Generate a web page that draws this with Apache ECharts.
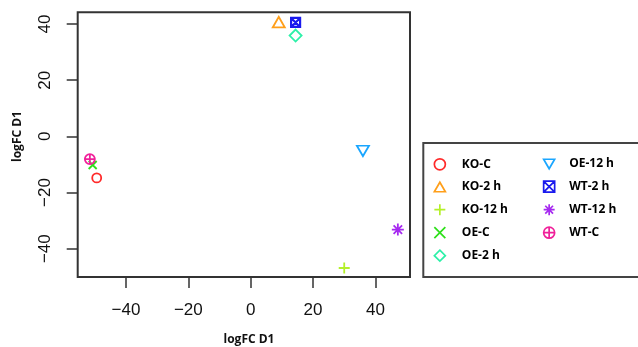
<!DOCTYPE html>
<html><head><meta charset="utf-8">
<script src="https://cdn.jsdelivr.net/npm/echarts@6/dist/echarts.min.js"></script>
<style>html,body{margin:0;padding:0;background:#fff}#c{width:638px;height:347px}</style>
</head><body><div id="c"></div>
<script>
// ---- data ----
const groups  = ['KO-C','KO-2 h','KO-12 h','OE-C','OE-2 h','OE-12 h','WT-2 h','WT-12 h','WT-C'];
const xValues = [-49.4, 9.0, 30.0, -50.7, 14.4, 36.0, 14.4, 47.2, -51.6];
const yValues = [-14.8, 40.7, -46.9, -10.2, 35.9, -5.2, 40.6, -33.2, -8.1];
const xTicks  = [-40, -20, 0, 20, 40];
const yTicks  = [-40, -20, 0, 20, 40];
const xTitle  = 'logFC D1';
const yTitle  = 'logFC D1';

// ---- styles ----
const colors = ['#ff2a2a','#ff9f1a','#b4f02a','#2ee01a','#2cf0a8','#1aa6ff','#1a1aee','#a62af0','#f0209a'];
const symbols = [
  'circle',
  'path://M5 0 L10 8.66 L0 8.66 Z',
  'path://M0 5 L10 5 M5 0 L5 10',
  'path://M0 0 L10 10 M10 0 L0 10',
  'path://M5 0 L10 5 L5 10 L0 5 Z',
  'path://M0 0 L10 0 L5 8.66 Z',
  'path://M0 0 L10 0 L10 10 L0 10 Z M0 0 L10 10 M10 0 L0 10',
  'path://M0 5 L10 5 M5 0 L5 10 M1.46 1.46 L8.54 8.54 M8.54 1.46 L1.46 8.54',
  'path://M0 5 A5 5 0 1 1 10 5 A5 5 0 1 1 0 5 Z M0 5 L10 5 M5 0 L5 10'
];
const sizes = [9, [12,10.4], 11, 8, 12, [12,10.4], 9, 12, 10];
const strokes = [1.8, 1.8, 1.8, 1.8, 1.8, 1.8, 2.2, 1.8, 1.8];

const minus = v => String(v).replace('-', '\u2212');

const series = groups.map((g, i) => ({
  name: g,
  type: 'scatter',
  data: [[xValues[i], yValues[i]]],
  symbol: symbols[i],
  symbolSize: sizes[i],
  itemStyle: { color: 'rgba(0,0,0,0)', borderColor: colors[i], borderWidth: strokes[i], opacity: 1 },
  emphasis: { disabled: true }
}));

const legendCommon = {
  orient: 'vertical', top: 158, itemWidth: 11, itemHeight: 11, itemGap: 10.3, padding: 0,
  selectedMode: false,
  itemStyle: { borderWidth: 1.7 },
  textStyle: { fontFamily: 'Open Sans', fontWeight: 'bold', fontSize: 12, color: '#000' }
};

const chart = echarts.init(document.getElementById('c'), null, { renderer: 'canvas' });
chart.setOption({
  animation: false,
  backgroundColor: '#fff',
  grid: { left: 77.7, top: 12.3, right: 228, bottom: 70, show: true, borderColor: '#333', borderWidth: 2, backgroundColor: 'rgba(0,0,0,0)' },
  xAxis: {
    type: 'value', min: -55.5, max: 51.1,
    axisLine: { show: false, onZero: false }, splitLine: { show: false },
    axisTick: { show: true, customValues: xTicks, length: 11, lineStyle: { color: '#333', width: 1.5 } },
    axisLabel: { customValues: xTicks, margin: 25, fontSize: 17, fontFamily: 'Liberation Sans', color: '#111', formatter: minus }
  },
  yAxis: {
    type: 'value', min: -50.1, max: 44.2,
    axisLine: { show: false, onZero: false }, splitLine: { show: false },
    axisTick: { show: true, customValues: yTicks, length: 11, lineStyle: { color: '#333', width: 1.5 } },
    axisLabel: { customValues: yTicks, rotate: 90, margin: 24, fontSize: 17, fontFamily: 'Liberation Sans', color: '#111', formatter: minus }
  },
  legend: [
    Object.assign({}, legendCommon, { data: groups.slice(0, 5), left: 433.5, textStyle: Object.assign({}, legendCommon.textStyle, { padding: [0,0,0,11.5] }) }),
    Object.assign({}, legendCommon, { data: groups.slice(5), left: 542.8, textStyle: Object.assign({}, legendCommon.textStyle, { padding: [0,0,0,9.5] }) })
  ],
  graphic: [
    { type: 'rect', shape: { x: 423.3, y: 143, width: 240, height: 134 }, style: { fill: 'none', stroke: '#444', lineWidth: 2 }, silent: true },
    { type: 'text', x: 249, y: 340, style: { text: xTitle, fontFamily: 'Open Sans', fontWeight: 'bold', fontSize: 12, fill: '#111', align: 'center', verticalAlign: 'middle' } },
    { type: 'text', x: 18, y: 136.5, rotation: Math.PI / 2, style: { text: yTitle, fontFamily: 'Open Sans', fontWeight: 'bold', fontSize: 12, fill: '#111', align: 'center', verticalAlign: 'middle' } }
  ],
  series: series
});
</script></body></html>
